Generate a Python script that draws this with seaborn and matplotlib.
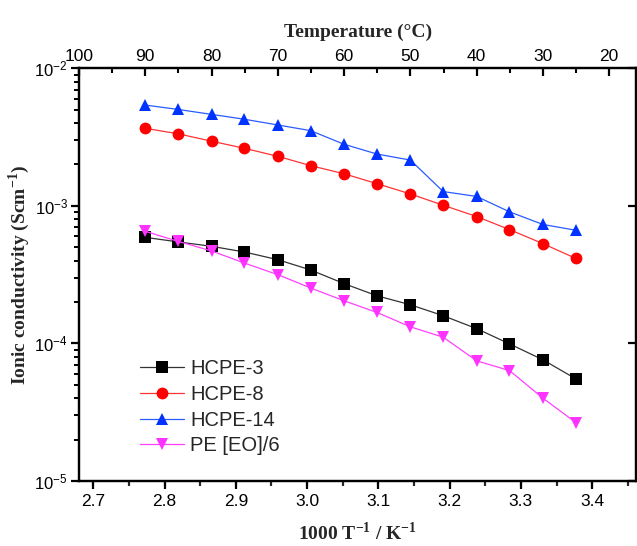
import math
import matplotlib
matplotlib.use("Agg")
import matplotlib.pyplot as plt
import seaborn as sns
import pandas as pd
from matplotlib.ticker import MultipleLocator, FixedLocator, NullFormatter, FuncFormatter, NullLocator

inv_T = [2.773, 2.819, 2.866, 2.912, 2.959, 3.005, 3.052, 3.098, 3.145,
         3.191, 3.238, 3.284, 3.331, 3.377]

hcpe3 = [5.90e-4, 5.47e-4, 5.08e-4, 4.62e-4, 4.06e-4, 3.42e-4, 2.72e-4,
         2.22e-4, 1.91e-4, 1.59e-4, 1.28e-4, 9.93e-5, 7.60e-5, 5.53e-5]
hcpe8 = [3.66e-3, 3.34e-3, 2.95e-3, 2.62e-3, 2.29e-3, 1.96e-3, 1.71e-3,
         1.45e-3, 1.22e-3, 1.01e-3, 8.36e-4, 6.72e-4, 5.31e-4, 4.15e-4]
hcpe14 = [5.40e-3, 5.02e-3, 4.62e-3, 4.26e-3, 3.87e-3, 3.52e-3, 2.80e-3,
          2.38e-3, 2.15e-3, 1.27e-3, 1.17e-3, 9.05e-4, 7.32e-4, 6.65e-4]
peo = [6.53e-4, 5.52e-4, 4.70e-4, 3.84e-4, 3.16e-4, 2.53e-4, 2.04e-4,
       1.68e-4, 1.32e-4, 1.11e-4, 7.47e-5, 6.35e-5, 4.00e-5, 2.66e-5]

series_names = ["HCPE-3", "HCPE-8", "HCPE-14", "PE [EO]/6"]
series_vals = [hcpe3, hcpe8, hcpe14, peo]
line_colors = ["#333333", "#ff3333", "#2a5cff", "#ff40ff"]
marker_colors = ["#000000", "#ff0000", "#0033ff", "#ff33ff"]
markers = ["s", "o", "^", "v"]
marker_sizes = [8, 8.5, 9, 9]

y_major = [1e-5, 1e-4, 1e-3, 1e-2]
top_ticks = [100, 90, 80, 70, 60, 50, 40, 30, 20]

sns.set_theme(style="ticks")
plt.rcParams["font.family"] = ["Liberation Sans", "DejaVu Sans"]
plt.rcParams["mathtext.fontset"] = "custom"
plt.rcParams["mathtext.rm"] = "Liberation Sans"
plt.rcParams["mathtext.bf"] = "Liberation Serif:bold"

rect = [0.124, 0.119, 0.875, 0.756]
xlims = (2.680, 3.462)
ylims = (1e-5, 1e-2)
minor_vals = [m * d for d in y_major[:-1] for m in range(2, 10)]

fig = plt.figure(figsize=(6.37, 5.46), dpi=100)

# overlay axes: left minor ticks (out), bottom minor ticks (out), right major ticks (in)
rax = fig.add_axes(rect, frameon=False)
rax.set_yscale("log")
rax.set_ylim(*ylims)
rax.set_xlim(*xlims)
rax.yaxis.set_major_locator(FixedLocator(y_major))
rax.yaxis.set_minor_locator(FixedLocator(minor_vals))
rax.yaxis.set_major_formatter(NullFormatter())
rax.yaxis.set_minor_formatter(NullFormatter())
rax.xaxis.set_major_locator(NullLocator())
rax.xaxis.set_minor_locator(MultipleLocator(0.05))
rax.xaxis.set_minor_formatter(NullFormatter())
rax.tick_params(axis="y", which="major", direction="in", length=6, width=1.6,
                left=False, right=True, labelleft=False, labelright=False,
                colors="black")
rax.tick_params(axis="y", which="minor", direction="out", length=3.5, width=1.3,
                left=True, right=False, colors="black")
rax.tick_params(axis="x", which="minor", direction="out", length=3.5, width=1.5,
                bottom=True, top=False, colors="black")

ax = fig.add_axes(rect)
ax.patch.set_alpha(0)

for name, vals, lc, mc, mk, ms in zip(series_names, series_vals, line_colors,
                                       marker_colors, markers, marker_sizes):
    df = pd.DataFrame({"x": inv_T, "y": vals})
    sns.lineplot(data=df, x="x", y="y", ax=ax, color=lc, linewidth=0.9,
                 marker=mk, markersize=ms, markerfacecolor=mc,
                 markeredgecolor=mc, markeredgewidth=0, label=name)

ax.set_yscale("log")
ax.set_ylim(*ylims)
ax.set_xlim(*xlims)

top = ax.twiny()
top.set_xlim(100, 15.9)
top.set_xticks(top_ticks)
top.xaxis.set_minor_locator(MultipleLocator(5))

ax.xaxis.set_major_locator(MultipleLocator(0.1))
ax.xaxis.set_minor_locator(MultipleLocator(0.05))
ax.xaxis.set_major_formatter(FuncFormatter(lambda v, p: f"{v:.1f}"))
ax.yaxis.set_major_locator(FixedLocator(y_major))
ax.yaxis.set_minor_locator(FixedLocator(minor_vals))
ax.yaxis.set_minor_formatter(NullFormatter())
ax.yaxis.set_major_formatter(
    FuncFormatter(lambda v, p: "$\\mathdefault{10^{%d}}$" % round(math.log10(v))))

for s in list(ax.spines.values()) + list(top.spines.values()):
    s.set_linewidth(1.6)
    s.set_color("black")

ax.tick_params(axis="x", which="major", direction="out", length=6, width=1.6,
               labelsize=12.5, pad=3, colors="black")
ax.tick_params(axis="x", which="minor", direction="out", length=3.5, width=1.5,
               bottom=True)
ax.tick_params(axis="y", which="major", direction="out", length=6, width=1.6,
               labelsize=12, pad=2, left=True, colors="black")
ax.tick_params(axis="y", which="minor", direction="out", length=3.5, width=1.3,
               left=True, colors="black")

top.tick_params(axis="x", which="major", direction="in", length=6, width=1.6,
                labelsize=12.5, pad=3, colors="black")
top.tick_params(axis="x", which="minor", direction="in", length=3.5, width=1.5,
                colors="black")
top.set_xlabel("Temperature (°C)", fontsize=14, fontweight="bold",
               family="Liberation Serif", labelpad=9)

ax.set_xlabel("1000 T$^{\\mathbf{-1}}$ / K$^{\\mathbf{-1}}$", fontsize=14,
              fontweight="bold", family="Liberation Serif", labelpad=9)
ax.set_ylabel("Ionic conductivity (Scm$^{\\mathbf{-1}}$)", fontsize=14,
              fontweight="bold", family="Liberation Serif", labelpad=2)

leg = ax.legend(loc="lower left", bbox_to_anchor=(0.095, 0.043), frameon=False,
                fontsize=14.5, handlelength=2.2, handletextpad=0.3,
                labelspacing=0.33, borderaxespad=0.0)

fig.savefig("out.png", dpi=100)
